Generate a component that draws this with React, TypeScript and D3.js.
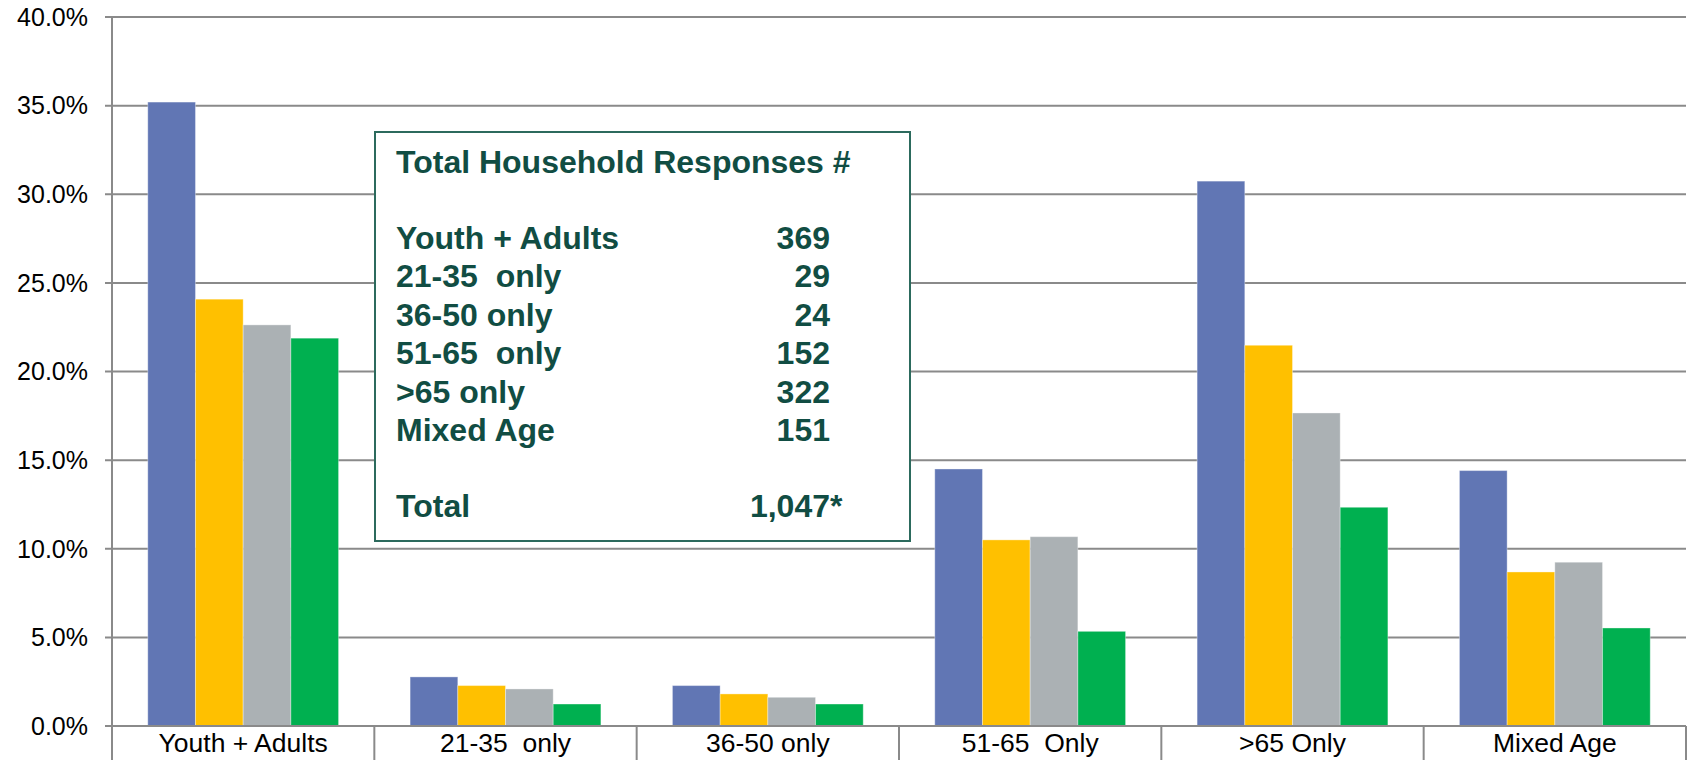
import React from "react";
import * as d3 from "d3";

const categories = ["Youth + Adults", "21-35  only", "36-50 only", "51-65  Only", ">65 Only", "Mixed Age"];
const seriesNames = ["Series 1", "Series 2", "Series 3", "Series 4"];
const seriesBlue = [35.2, 2.77, 2.28, 14.5, 30.74, 14.41];
const seriesYellow = [24.08, 2.28, 1.81, 10.5, 21.48, 8.69];
const seriesGray = [22.63, 2.09, 1.62, 10.68, 17.66, 9.24];
const seriesGreen = [21.88, 1.24, 1.24, 5.34, 12.34, 5.53];
const seriesColors = ["#6176B4", "#FFC000", "#ABB1B4", "#00B050"];
const yTicks = [0, 5, 10, 15, 20, 25, 30, 35, 40];

const boxTitle = "Total Household Responses #";
const boxLabels = ["Youth + Adults", "21-35  only", "36-50 only", "51-65  only", ">65 only", "Mixed Age"];
const boxCounts = ["369", "29", "24", "152", "322", "151"];
const boxTotalLabel = "Total";
const boxTotal = "1,047";

const W = 1693;
const H = 760;
const M = { left: 112, right: 1686, top: 17, bottom: 726 };

export default function App() {
  const allSeries = [seriesBlue, seriesYellow, seriesGray, seriesGreen];
  const x0 = d3.scaleBand<string>().domain(categories).range([M.left, M.right]).paddingInner(0).paddingOuter(0);
  const x1 = d3.scaleBand<string>().domain(seriesNames).range([0, x0.bandwidth()]).paddingInner(0).paddingOuter(0.75);
  const y = d3.scaleLinear().domain([0, 40]).range([M.bottom, M.top]);
  const fmt = (v: number) => v.toFixed(1) + "%";
  const teal = "#114D43";
  const font = "Liberation Sans, Arial, sans-serif";
  const pre = { whiteSpace: "pre" as const };

  const boxX = 375, boxY = 132, boxW = 535, boxH = 409;
  const textX = 396, numX = 830;
  const rowY0 = 248.5, rowStep = 38.5;

  return (
    <div style={{ position: "absolute", left: 0, top: 0 }}>
      <svg width={W} height={H} style={{ display: "block", background: "#fff" }} fontFamily={font}>
        {yTicks.map((t) => (
          <line key={"g" + t} x1={M.left - 7} x2={M.right} y1={y(t)} y2={y(t)} stroke="#8A8A8A" strokeWidth={2} />
        ))}
        {yTicks.map((t) => (
          <text key={"yl" + t} x={88} y={y(t)} dy="0.35em" textAnchor="end" fontSize={25} fill="#000">
            {fmt(t)}
          </text>
        ))}
        {allSeries.map((s, si) =>
          s.map((v, ci) => (
            <rect
              key={si + "-" + ci}
              x={(x0(categories[ci]) as number) + (x1(seriesNames[si]) as number)}
              y={y(v)}
              width={x1.bandwidth()}
              height={y(0) - y(v)}
              fill={seriesColors[si]}
              stroke="#ffffff"
              strokeOpacity={0.35}
              strokeWidth={1}
            />
          ))
        )}
        <line x1={M.left} x2={M.left} y1={M.top} y2={H} stroke="#8A8A8A" strokeWidth={2} />
        <line x1={M.left} x2={M.right} y1={M.bottom} y2={M.bottom} stroke="#8A8A8A" strokeWidth={2} />
        {categories.map((c) => (
          <line
            key={"d" + c}
            x1={(x0(c) as number) + x0.bandwidth()}
            x2={(x0(c) as number) + x0.bandwidth()}
            y1={M.bottom}
            y2={H}
            stroke="#8A8A8A"
            strokeWidth={2}
          />
        ))}
        {categories.map((c) => (
          <text
            key={"cl" + c}
            x={(x0(c) as number) + x0.bandwidth() / 2}
            y={752}
            textAnchor="middle"
            fontSize={26.5}
            fill="#000"
            style={pre}
          >
            {c}
          </text>
        ))}
        <rect x={boxX} y={boxY} width={boxW} height={boxH} fill="#fff" stroke="#2C6A5D" strokeWidth={2} />
        <g fontWeight="bold" fontSize={32} fill={teal}>
          <text x={textX} y={172.7} style={pre}>{boxTitle}</text>
          {boxLabels.map((l, i) => (
            <text key={"bl" + i} x={textX} y={rowY0 + i * rowStep} style={pre}>{l}</text>
          ))}
          {boxCounts.map((n, i) => (
            <text key={"bn" + i} x={numX} y={rowY0 + i * rowStep} textAnchor="end" style={pre}>{n}</text>
          ))}
          <text x={textX} y={517} style={pre}>{boxTotalLabel}</text>
          <text x={numX} y={517} textAnchor="end" style={pre}>{boxTotal}</text>
          <text x={numX} y={517} style={pre}>*</text>
        </g>
      </svg>
    </div>
  );
}
